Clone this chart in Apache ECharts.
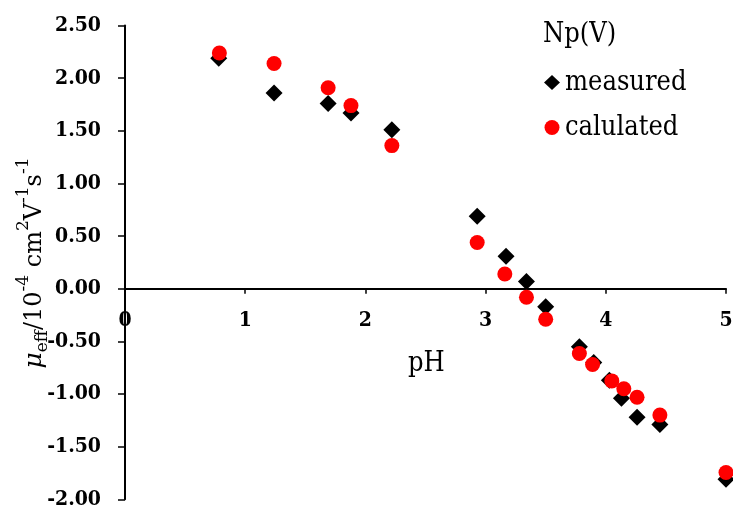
<!DOCTYPE html>
<html>
<head>
<meta charset="utf-8">
<script src="https://cdn.jsdelivr.net/npm/echarts@6/dist/echarts.min.js"></script>
<style>html,body{margin:0;padding:0;background:#fff}#c{width:733px;height:508px}</style>
</head>
<body>
<div id="c"></div>
<script>
const measuredPH = [0.78, 1.24, 1.69, 1.88, 2.22, 2.93, 3.17, 3.34, 3.50, 3.78, 3.90, 4.03, 4.13, 4.26, 4.45, 5.00];
const measuredMu = [2.19, 1.86, 1.76, 1.67, 1.51, 0.69, 0.31, 0.07, -0.17, -0.55, -0.70, -0.87, -1.04, -1.22, -1.29, -1.81];
const calcPH = [0.785, 1.24, 1.69, 1.88, 2.22, 2.93, 3.16, 3.34, 3.50, 3.78, 3.89, 4.05, 4.15, 4.26, 4.45, 5.00];
const calcMu = [2.24, 2.14, 1.91, 1.74, 1.36, 0.44, 0.14, -0.08, -0.29, -0.615, -0.72, -0.875, -0.95, -1.03, -1.20, -1.745];
const seriesNames = ['measured', 'calulated'];
const legendTitle = 'Np(V)';
const xTitle = 'pH';
const yTitle = '{mu|μ}{sub|eff}{b|/10}{sup|-4}{b| cm}{sup|2}{b|V}{sup|-1}{b|s}{sup|-1}';

const serif = '"DejaVu Serif Condensed", "DejaVu Serif", serif';
const serifW = '"DejaVu Serif", serif';
const gridTop = 25.6, gridBottom = 8.7, H = 508;
const yMin = -2, yMax = 2.5;
const plotH = H - gridTop - gridBottom;
const zeroOffset = -plotH * (0 - yMin) / (yMax - yMin);

const chart = echarts.init(document.getElementById('c'));
chart.setOption({
  animation: false,
  backgroundColor: '#fff',
  grid: { left: 125, right: 7, top: gridTop, bottom: gridBottom, containLabel: false, outerBoundsMode: 'none' },
  xAxis: {
    type: 'value', min: 0, max: 5, interval: 1, position: 'bottom', offset: zeroOffset,
    axisLine: { onZero: false, lineStyle: { color: '#000', width: 2 } },
    axisTick: { show: true, inside: false, length: 5, lineStyle: { color: '#000', width: 1.5 } },
    axisLabel: { margin: 21, color: '#000', fontFamily: serif, fontWeight: 'bold', fontSize: 21 },
    splitLine: { show: false }
  },
  yAxis: {
    type: 'value', min: yMin, max: yMax, interval: 0.5,
    axisLine: { show: true, onZero: false, lineStyle: { color: '#000', width: 2 } },
    axisTick: { show: true, inside: false, length: 7, lineStyle: { color: '#000', width: 1.5 } },
    axisLabel: { margin: 24, color: '#000', fontFamily: serif, fontWeight: 'bold', fontSize: 21,
      formatter: v => v.toFixed(2) },
    splitLine: { show: false }
  },
  legend: {
    orient: 'vertical', left: 539, top: 64, itemGap: 18,
    itemWidth: 16, itemHeight: 15,
    textStyle: { fontFamily: serif, fontSize: 27, color: '#000', lineHeight: 27 },
    data: [
      { name: seriesNames[0], icon: 'diamond' },
      { name: seriesNames[1], icon: 'circle' }
    ]
  },
  graphic: [
    { type: 'text', left: 543, top: 21, style: { text: legendTitle, fontFamily: serif, fontSize: 27, fill: '#000' } },
    { type: 'text', left: 408, top: 350, style: { text: xTitle, fontFamily: serif, fontSize: 27, fill: '#000' } },
    {
      type: 'text', x: 31, y: 263, rotation: Math.PI / 2,
      style: {
        text: yTitle, align: 'center', verticalAlign: 'middle', fill: '#000',
        fontFamily: serifW, fontSize: 24,
        rich: {
          b: { fontFamily: serifW, fontSize: 24, fill: '#000', lineHeight: 32, verticalAlign: 'bottom' },
          mu: { fontFamily: serifW, fontSize: 25, fontStyle: 'italic', fill: '#000', lineHeight: 32, verticalAlign: 'bottom' },
          sub: { fontFamily: serifW, fontSize: 17, fill: '#000', lineHeight: 17, verticalAlign: 'bottom', padding: [0, 0, -4, 0] },
          sup: { fontFamily: serifW, fontSize: 17, fill: '#000', lineHeight: 17, verticalAlign: 'top' }
        }
      }
    }
  ],
  series: [
    {
      name: seriesNames[0], type: 'scatter', symbol: 'diamond', symbolSize: 17,
      itemStyle: { color: '#000', opacity: 1 },
      data: measuredPH.map((x, i) => [x, measuredMu[i]])
    },
    {
      name: seriesNames[1], type: 'scatter', symbol: 'circle', symbolSize: 15,
      itemStyle: { color: '#ff0000', opacity: 1 },
      data: calcPH.map((x, i) => [x, calcMu[i]])
    }
  ]
});
</script>
</body>
</html>
